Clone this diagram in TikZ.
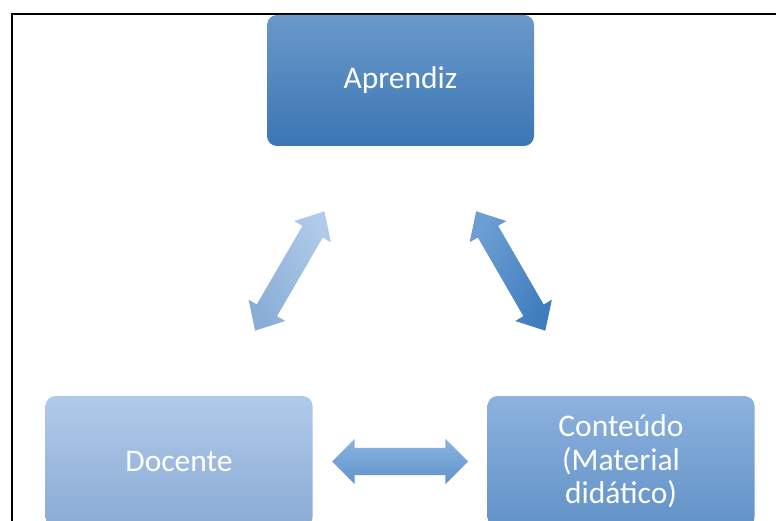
\documentclass[tikz,border=0pt]{standalone}
\usepackage{fontspec}
\setmainfont{Carlito}
\usepackage{tikz}
\usetikzlibrary{calc, shapes.arrows}

\definecolor{aprTop}{HTML}{6A99CA}
\definecolor{aprBot}{HTML}{3B76B4}
\definecolor{docTop}{HTML}{B0CAE9}
\definecolor{docBot}{HTML}{8BABD4}
\definecolor{conTop}{HTML}{8DB2DE}
\definecolor{conBot}{HTML}{6292C8}
\definecolor{arlTop}{HTML}{AFCAEA}
\definecolor{arlBot}{HTML}{8AADD6}
\definecolor{arrTop}{HTML}{6D9ED3}
\definecolor{arrBot}{HTML}{3F7DBE}
\definecolor{arhTop}{HTML}{8AB3E0}
\definecolor{arhBot}{HTML}{5F93CA}

\begin{document}
\begin{tikzpicture}[x=1pt,y=-1pt]
          \tikzstyle{box}=[rectangle,rounded corners=10pt,minimum width=267pt,minimum height=131pt,
                           inner sep=0pt,text=white,align=center,
                           font=\fontsize{31.5}{33.5}\selectfont]
          \tikzstyle{dblarrow}=[double arrow,inner xsep=0pt,inner ysep=11.5pt,minimum height=138pt,minimum width=42pt,
                                double arrow head extend=9.5pt,double arrow tip angle=84]
          \clip (0,0) rectangle (776,521);
          \draw[line width=2pt] (12,540) |- (800,14);
          \node[box,top color=aprTop,bottom color=aprBot] (apr) at (400.5,80.5) {Aprendiz};
          \node[box,top color=docTop,bottom color=docBot] (doc) at (179,461.5) {Docente};
          \node[box,top color=conTop,bottom color=conBot] (con) at (621,461.5) {Conteúdo\\(Material\\didático)};
          \path (doc.center) -- node[dblarrow,sloped,top color=arlTop,bottom color=arlBot,shading angle=-59.8] (adl) {} (apr.center);
          \path (apr.center) -- node[dblarrow,sloped,top color=arrTop,bottom color=arrBot,shading angle=59.9] (arl) {} (con.center);
          \path (doc.center) -- node[dblarrow,inner ysep=13.5pt,minimum height=136pt,minimum width=45pt,double arrow head extend=9pt,
                                     double arrow tip angle=90,top color=arhTop,bottom color=arhBot] (dcl) {} (con.center);
        \end{tikzpicture}
\end{document}
